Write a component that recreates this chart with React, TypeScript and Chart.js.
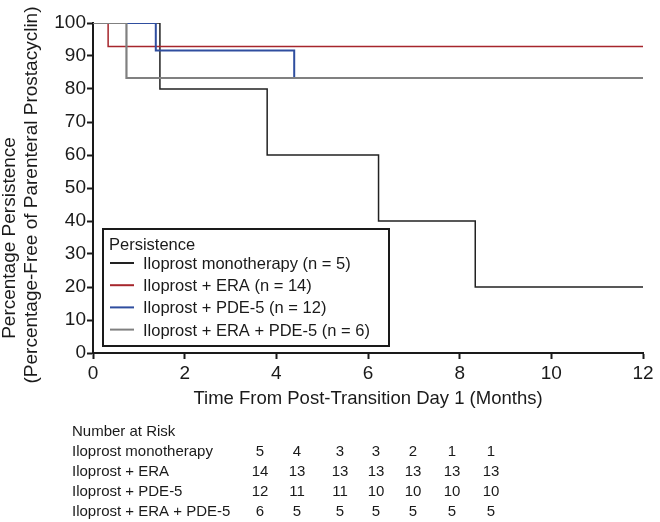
import React, { useEffect, useRef } from 'react';
import { Chart, registerables } from 'chart.js';

Chart.register(...registerables);

// ---- Data ----
const seriesLabels = [
  'Iloprost monotherapy (n = 5)',
  'Iloprost + ERA (n = 14)',
  'Iloprost + PDE-5 (n = 12)',
  'Iloprost + ERA + PDE-5 (n = 6)',
];
const monoTimes = [0, 1.46, 3.8, 6.23, 8.34, 12];
const monoValues = [100, 80, 60, 40, 20, 20];
const eraTimes = [0, 0.33, 12];
const eraValues = [100, 92.86, 92.86];
const pdeTimes = [0, 1.37, 4.39, 12];
const pdeValues = [100, 91.67, 83.33, 83.33];
const tripleTimes = [0, 0.73, 12];
const tripleValues = [100, 83.33, 83.33];

const legendTitle = 'Persistence';
const xTitle = 'Time From Post-Transition Day 1 (Months)';
const yTitleLines = ['Percentage Persistence', '(Percentage-Free of Parenteral Prostacyclin)'];

const riskHeader = 'Number at Risk';
const riskGroups = ['Iloprost monotherapy', 'Iloprost + ERA', 'Iloprost + PDE-5', 'Iloprost + ERA + PDE-5'];
const riskMono = [5, 4, 3, 3, 2, 1, 1];
const riskEra = [14, 13, 13, 13, 13, 13, 13];
const riskPde = [12, 11, 11, 10, 10, 10, 10];
const riskTriple = [6, 5, 5, 5, 5, 5, 5];

// ---- Styles / layout ----
const FONT = "'Liberation Sans', Arial, sans-serif";
const INK = '#1a1a1a';
const colors = ['#222222', '#a6262c', '#2f4e9f', '#808080'];
const widths = [1.5, 1.5, 2, 2.2];
const drawOrder = [4, 3, 2, 1];
const riskColX = [260, 297, 340, 376, 413, 452, 491];

const toPts = (xs: number[], ys: number[]) => xs.map((x, i) => ({ x, y: ys[i] }));

const overlayPlugin = {
  id: 'overlay',
  afterDraw(chart: any) {
    const ctx = chart.ctx as CanvasRenderingContext2D;
    const area = chart.chartArea;
    ctx.save();
    ctx.fillStyle = INK;

    // Y title (two lines, rotated)
    ctx.font = `19px ${FONT}`;
    ctx.textAlign = 'center';
    ctx.textBaseline = 'alphabetic';
    const yLinePos = [
      { x: 15, y: 238 },
      { x: 37, y: 195 },
    ];
    yTitleLines.forEach((t, i) => {
      ctx.save();
      ctx.translate(yLinePos[i].x, yLinePos[i].y);
      ctx.rotate(-Math.PI / 2);
      ctx.fillText(t, 0, 0);
      ctx.restore();
    });

    // X title
    ctx.font = `18.5px ${FONT}`;
    ctx.textAlign = 'center';
    ctx.fillText(xTitle, (area.left + area.right) / 2, 404);

    // Legend box
    const lx = 103, ly = 229, lw = 286, lh = 117;
    ctx.fillStyle = '#ffffff';
    ctx.fillRect(lx, ly, lw, lh);
    ctx.strokeStyle = INK;
    ctx.lineWidth = 2;
    ctx.strokeRect(lx, ly, lw, lh);
    ctx.fillStyle = INK;
    ctx.font = `16.5px ${FONT}`;
    ctx.textAlign = 'left';
    ctx.fillText(legendTitle, 109, 250);
    seriesLabels.forEach((lab, i) => {
      const base = 269 + i * 22.2;
      ctx.strokeStyle = colors[i];
      ctx.lineWidth = 2;
      ctx.beginPath();
      ctx.moveTo(110, base - 6);
      ctx.lineTo(134, base - 6);
      ctx.stroke();
      ctx.fillStyle = INK;
      ctx.fillText(lab, 143, base);
    });

    // Risk table
    ctx.font = `15px ${FONT}`;
    ctx.textAlign = 'left';
    ctx.fillText(riskHeader, 72, 436);
    const rows = [riskMono, riskEra, riskPde, riskTriple];
    riskGroups.forEach((g, r) => {
      const base = 456 + r * 20;
      ctx.textAlign = 'left';
      ctx.fillText(g, 72, base);
      ctx.textAlign = 'center';
      rows[r].forEach((v, c) => {
        ctx.fillText(String(v), riskColX[c], base);
      });
    });
    ctx.restore();
  },
};

export default function App() {
  const ref = useRef<HTMLCanvasElement>(null);
  useEffect(() => {
    if (!ref.current) return;
    const datasets = [
      toPts(monoTimes, monoValues),
      toPts(eraTimes, eraValues),
      toPts(pdeTimes, pdeValues),
      toPts(tripleTimes, tripleValues),
    ].map((data, i) => ({
      label: seriesLabels[i],
      data,
      borderColor: colors[i],
      backgroundColor: colors[i],
      borderWidth: widths[i],
      pointRadius: 0,
      fill: false,
      stepped: 'before' as const,
      order: drawOrder[i],
    }));
    const chart = new Chart(ref.current, {
      type: 'line',
      data: { datasets },
      options: {
        animation: false,
        responsive: false,
        devicePixelRatio: 1,
        layout: { padding: { top: 23, right: 17, bottom: 129, left: 0 } },
        plugins: { legend: { display: false }, tooltip: { enabled: false } },
        scales: {
          x: {
            type: 'linear',
            min: 0,
            max: 12,
            ticks: { stepSize: 2, color: INK, font: { family: FONT, size: 19 }, padding: 3, maxRotation: 0 },
            grid: { display: true, drawOnChartArea: false, drawTicks: true, tickLength: 6, tickWidth: 2, tickColor: INK, color: INK },
            border: { display: true, color: INK, width: 2 },
            afterFit: (s: any) => { s.height = 40; },
          },
          y: {
            type: 'linear',
            min: 0,
            max: 100,
            ticks: { stepSize: 10, color: INK, font: { family: FONT, size: 19 }, padding: 1 },
            grid: { display: true, drawOnChartArea: false, drawTicks: true, tickLength: 6, tickWidth: 2, tickColor: INK, color: INK },
            border: { display: true, color: INK, width: 2 },
            afterFit: (s: any) => { s.width = 93; },
          },
        },
      },
      plugins: [overlayPlugin],
    });
    return () => chart.destroy();
  }, []);
  return (
    <div style={{ position: 'absolute', left: 0, top: 0, width: 660, height: 522, background: '#fff' }}>
      <canvas ref={ref} width={660} height={522} style={{ display: 'block', width: 660, height: 522 }} />
    </div>
  );
}
